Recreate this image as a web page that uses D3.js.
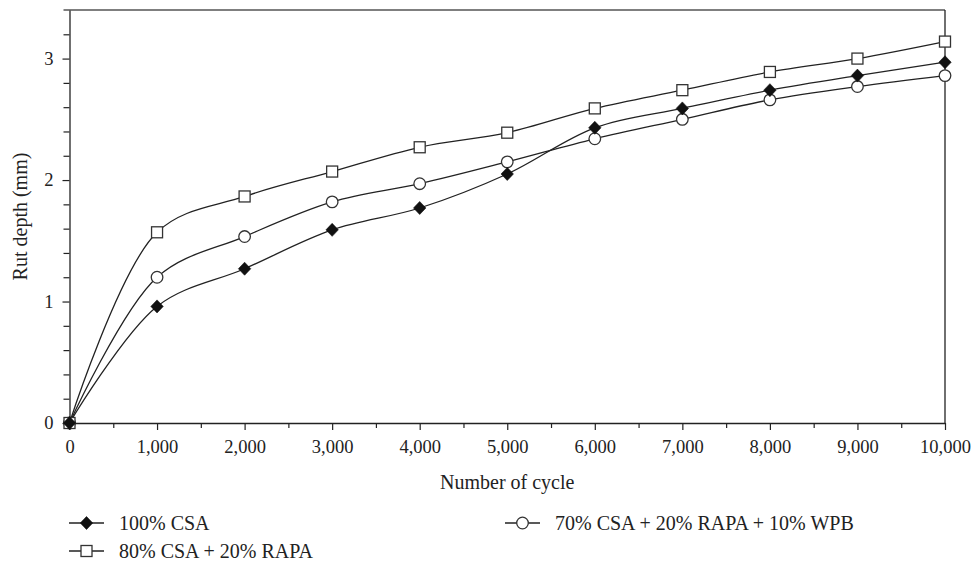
<!DOCTYPE html>
<html>
<head>
<meta charset="utf-8">
<script src="https://cdn.jsdelivr.net/npm/d3@7"></script>
<style>
  html, body { margin: 0; padding: 0; background: #fff; }
  svg { display: block; }
  text { font-family: "Liberation Serif", "Times New Roman", serif; fill: #222; }
</style>
</head>
<body>
<svg id="chart" width="974" height="562"></svg>
<script>
// Rut depth measured over loading cycles for three binder mixes
const cycles = [0, 1000, 2000, 3000, 4000, 5000, 6000, 7000, 8000, 9000, 10000];
const csa100 = [0, 0.96, 1.27, 1.59, 1.77, 2.05, 2.43, 2.59, 2.74, 2.86, 2.97];
const csa80Rapa20 = [0, 1.57, 1.865, 2.07, 2.27, 2.39, 2.59, 2.74, 2.89, 3.00, 3.14];
const csa70Rapa20Wpb10 = [0, 1.20, 1.535, 1.82, 1.97, 2.15, 2.34, 2.50, 2.66, 2.77, 2.86];
const seriesNames = ["100% CSA", "80% CSA + 20% RAPA", "70% CSA + 20% RAPA + 10% WPB"];
const xTickValues = [0, 1000, 2000, 3000, 4000, 5000, 6000, 7000, 8000, 9000, 10000];
const yTickValues = [0, 1, 2, 3];

const series = [
  { name: seriesNames[0], values: csa100, marker: "diamond" },
  { name: seriesNames[1], values: csa80Rapa20, marker: "square" },
  { name: seriesNames[2], values: csa70Rapa20Wpb10, marker: "circle" }
];

const svg = d3.select("#chart");
const ink = "#222";
const margin = { left: 69.5, right: 29, top: 10, bottom: 139 };
const W = 974, H = 562;

const x = d3.scaleLinear().domain([0, 10000]).range([margin.left, W - margin.right]);
const y = d3.scaleLinear().domain([0, 3.4]).range([H - margin.bottom, margin.top]);

const fmt = d3.format(",");

// Frame: top and right edges
svg.append("line")
  .attr("x1", x(0) - 6).attr("x2", x(10000))
  .attr("y1", y(3.4)).attr("y2", y(3.4))
  .attr("stroke", "#555").attr("stroke-width", 1.3);
svg.append("line")
  .attr("x1", x(10000)).attr("x2", x(10000))
  .attr("y1", y(3.4)).attr("y2", y(0))
  .attr("stroke", ink).attr("stroke-width", 1.3);

// X axis: major ticks every 1,000, minor at the half steps
const xAxis = svg.append("g").attr("transform", `translate(0,${y(0)})`);
xAxis.call(d3.axisBottom(x).tickValues(xTickValues).tickFormat(fmt).tickSize(7).tickSizeOuter(0).tickPadding(10));
xAxis.append("g").call(
  d3.axisBottom(x).tickValues(d3.range(500, 10000, 1000)).tickFormat("").tickSize(5).tickSizeOuter(0)
).select(".domain").remove();

// Y axis: major ticks every 1 mm, minor every 0.2 mm
const yAxis = svg.append("g").attr("transform", `translate(${x(0)},0)`);
yAxis.call(d3.axisLeft(y).tickValues(yTickValues).tickFormat(d3.format("d")).tickSize(7).tickSizeOuter(0).tickPadding(9));
yAxis.append("g").call(
  d3.axisLeft(y).tickValues(d3.range(0.2, 3.4, 0.2).filter(v => Math.abs(v - Math.round(v)) > 1e-6)).tickFormat("").tickSize(6).tickSizeOuter(0)
).select(".domain").remove();

svg.selectAll(".domain").attr("stroke", ink).attr("stroke-width", 1.3);
svg.selectAll(".tick line").attr("stroke", ink).attr("stroke-width", 1.2);
svg.selectAll(".tick text")
  .attr("font-family", "'Liberation Serif', serif")
  .attr("font-size", 18.5)
  .attr("fill", ink);

// Axis titles
svg.append("text")
  .attr("x", (x(0) + x(10000)) / 2).attr("y", 489)
  .attr("text-anchor", "middle").attr("font-size", 20)
  .text("Number of cycle");
svg.append("text")
  .attr("transform", `translate(27,${(y(0) + y(3.4)) / 2}) rotate(-90)`)
  .attr("text-anchor", "middle").attr("font-size", 20)
  .text("Rut depth (mm)");

// Marker drawing
function drawMarker(g, type, cx, cy) {
  if (type === "diamond") {
    const hw = 6.2, hh = 6.5;
    g.append("path")
      .attr("d", `M${cx},${cy - hh}L${cx + hw},${cy}L${cx},${cy + hh}L${cx - hw},${cy}Z`)
      .attr("fill", "#111").attr("stroke", "#111").attr("stroke-width", 0.6);
  } else if (type === "square") {
    g.append("rect")
      .attr("x", cx - 5.5).attr("y", cy - 5.5).attr("width", 11).attr("height", 11)
      .attr("fill", "#fff").attr("stroke", "#333").attr("stroke-width", 1.3);
  } else {
    g.append("circle")
      .attr("cx", cx).attr("cy", cy).attr("r", 5.8)
      .attr("fill", "#fff").attr("stroke", "#333").attr("stroke-width", 1.3);
  }
}

const line = d3.line()
  .x((d, i) => x(cycles[i]))
  .y(d => y(d))
  .curve(d3.curveCatmullRom.alpha(0.5));

const plot = svg.append("g");
series.forEach(s => {
  plot.append("path")
    .datum(s.values)
    .attr("d", line)
    .attr("fill", "none")
    .attr("stroke", ink)
    .attr("stroke-width", 1.3);
});
// markers: circles first, then squares, diamonds on top
[series[2], series[1], series[0]].forEach(s => {
  const g = plot.append("g");
  s.values.forEach((v, i) => drawMarker(g, s.marker, x(cycles[i]), y(v)));
});

// Legend: two columns, two rows
const legendItems = [
  { s: series[0], lx: 69, ly: 523 },
  { s: series[2], lx: 505, ly: 523 },
  { s: series[1], lx: 69, ly: 551 }
];
legendItems.forEach(item => {
  const g = svg.append("g");
  g.append("line")
    .attr("x1", item.lx).attr("x2", item.lx + 35)
    .attr("y1", item.ly).attr("y2", item.ly)
    .attr("stroke", ink).attr("stroke-width", 1.3);
  drawMarker(g, item.s.marker, item.lx + 17.5, item.ly);
  g.append("text")
    .attr("x", item.lx + 50).attr("y", item.ly + 6.5)
    .attr("font-size", 20)
    .text(item.s.name);
});
</script>
</body>
</html>
